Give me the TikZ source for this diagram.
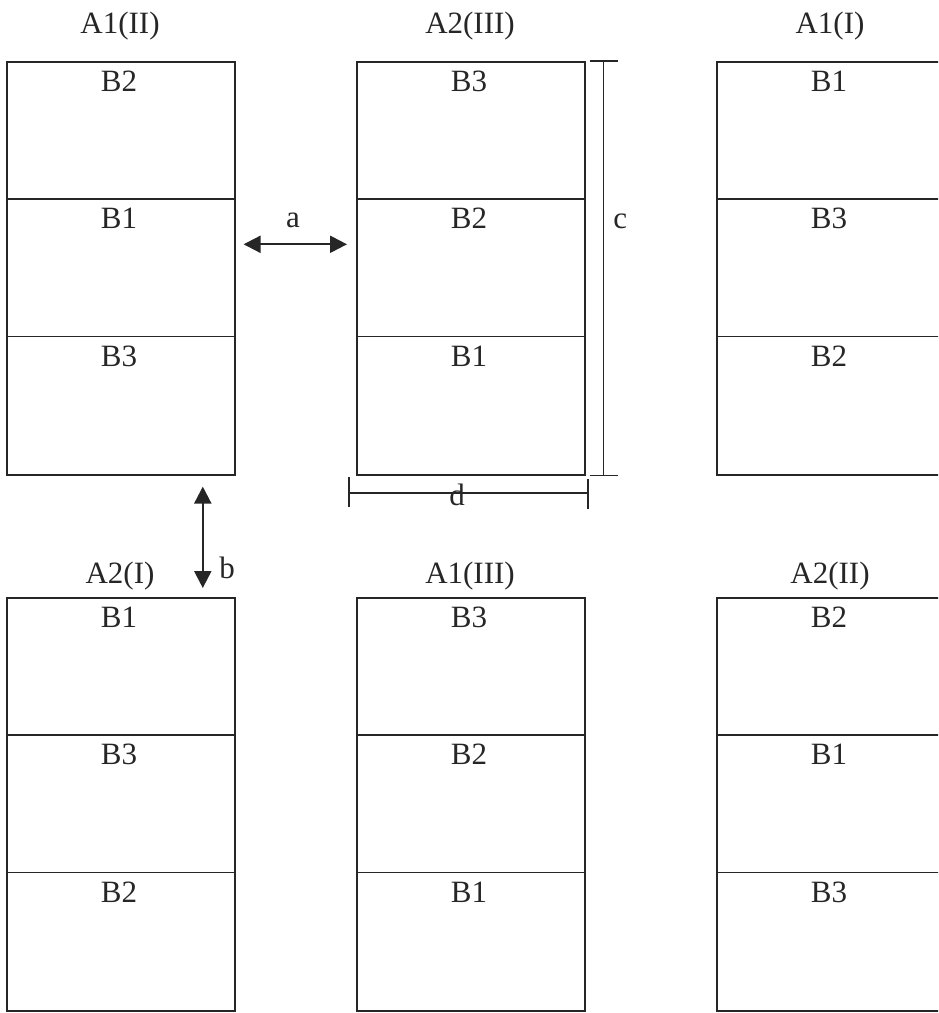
\documentclass[tikz,border=0pt]{standalone}
\usepackage{fontspec}
\setmainfont{Liberation Serif}
\usetikzlibrary{arrows.meta}

\tikzset{
  stack/.style={draw=black!85, line width=0.8pt, minimum width=114pt,
    minimum height=206.5pt, anchor=north west, inner sep=0pt},
  frame/.style={draw=black!85, line width=0.8pt},
  lbl/.style={font=\fontsize{15.5}{17}\selectfont, text=black!85, inner sep=0pt},
  dimarrow/.style={{Triangle[length=8.5pt,width=8.5pt]}-{Triangle[length=8.5pt,width=8.5pt]},
    line width=1.1pt, draw=black!85, fill=black!85},
}

\begin{document}
\begin{tikzpicture}[x=0.5pt, y=-0.5pt]
  \clip (0,0) rectangle (938,1013);

  % six stacks, three layers each
  \foreach \nm/\cx/\ty/\hy/\ttl/\sa/\sb/\sc in {
      tl/6/61/26/A1(II)/B2/B1/B3,
      tm/356/61/26/A2(III)/B3/B2/B1,
      tr/716/61/26/A1(I)/B1/B3/B2,
      bl/6/597/576/A2(I)/B1/B3/B2,
      bm/356/597/576/A1(III)/B3/B2/B1,
      br/716/597/576/A2(II)/B2/B1/B3} {
    \node[stack] (\nm) at (\cx,\ty) {};
    \draw[frame] (\cx,\ty+137.7) -- +(228,0);
    \draw[frame] (\cx,\ty+275.3) -- +(228,0);
    \node[lbl] (\nm-t) at (\cx+114,\hy) {\ttl};
    \node[lbl] (\nm-1) at (\cx+113,\ty+20) {\sa};
    \node[lbl] (\nm-2) at (\cx+113,\ty+157.7) {\sb};
    \node[lbl] (\nm-3) at (\cx+113,\ty+295.3) {\sc};
  }

  % spacing a
  \draw[dimarrow, shorten <=4pt, shorten >=4.5pt]
    ([yshift=12pt]tl.east) -- ([yshift=12pt]tm.west);
  \node[lbl, anchor=base] (la) at (293,227) {a};

  % spacing b
  \draw[dimarrow, shorten <=5.5pt, shorten >=4.5pt]
    ([xshift=41pt]tl.south) -- ([xshift=41pt]bl.north);
  \node[lbl, anchor=base] (lb) at (227,578) {b};

  % height c
  \coordinate (c1) at ([xshift=9pt]tm.north east);
  \coordinate (c2) at ([xshift=9pt]tm.south east);
  \draw[frame] (c1) -- (c2);
  \draw[frame] ([xshift=-7pt]c1) -- ([xshift=7pt]c1);
  \draw[frame] ([xshift=-7pt]c2) -- ([xshift=7pt]c2);
  \node[lbl, anchor=base west] (lc) at (613,228) {c};

  % width d
  \coordinate (d1) at (349,493);
  \coordinate (d2) at (588,493);
  \draw[frame] (d1) -- (d2);
  \draw[frame] ([yshift=8pt]d1) -- ([yshift=-7pt]d1);
  \draw[frame] ([yshift=7pt]d2) -- ([yshift=-8pt]d2);
  \node[lbl, anchor=base] (ld) at (457,505) {d};
\end{tikzpicture}
\end{document}
